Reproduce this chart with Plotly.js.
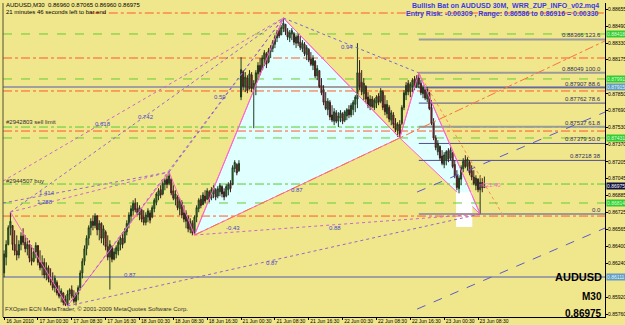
<!DOCTYPE html>
<html><head><meta charset="utf-8">
<script src="https://cdn.plot.ly/plotly-3.0.1.min.js"></script>
<style>html,body{margin:0;padding:0;background:#F0E68C}#c{width:625px;height:325px}</style>
</head><body><div id="c"></div><script>
// prices stored as offset from 0.85 in units of 0.00001
const BASE = 0.85, UNIT = 1e-5;
const openV = [1150,1300,1420,1580,1600,1420,1360,1320,1420,1500,1440,1380,1420,1290,1260,1350,1410,1250,1200,1250,1130,1200,1090,1060,1010,1060,960,930,960,900,850,950,990,930,880,950,1010,1150,1260,1380,1480,1580,1640,1600,1690,1560,1620,1480,1540,1400,1300,1400,1280,1330,1360,1420,1480,1440,1540,1610,1690,1740,1810,1760,1700,1750,1680,1630,1680,1720,1680,1760,1820,1880,1940,1900,1990,2040,2000,2040,1930,1850,1870,1760,1820,1720,1640,1680,1560,1620,1530,1680,1760,1850,1800,1880,1850,1920,1860,1900,1940,1880,1920,1970,1920,1880,1940,2000,1990,2140,2180,2120,2820,3060,2920,3000,2900,3030,2900,2950,3040,3120,3080,3180,3230,3150,3250,3280,3320,3380,3450,3410,3470,3510,3440,3380,3420,3420,3330,3400,3340,3280,3320,3220,3270,3180,3120,3160,3020,3070,2930,2890,2780,2700,2770,2650,2590,2670,2590,2620,2660,2600,2640,2700,2650,2700,2750,2800,3050,2960,2850,2920,2820,2730,2800,2720,2760,2830,2780,2870,2750,2660,2720,2600,2650,2570,2500,2560,2570,2720,2840,2950,2870,2920,2990,2920,3000,2950,2850,2890,2800,2860,2720,2580,2430,2300,2350,2260,2180,2220,2310,2240,2290,2180,2080,1950,2040,2140,2220,2160,2200,2120,2060,1980,2040,1940,2010,1960];
const highV = [1365,1460,1602,1728,1602,1555,1507,1460,1536,1574,1507,1479,1460,1412,1384,1441,1412,1365,1317,1289,1251,1222,1194,1156,1127,1080,1032,1004,966,937,985,1004,1032,985,966,1032,1175,1289,1412,1507,1602,1669,1697,1716,1700,1650,1631,1602,1555,1507,1460,1412,1384,1412,1460,1507,1536,1574,1650,1726,1792,1840,1859,1821,1792,1764,1745,1726,1764,1745,1792,1859,1916,1954,1982,2030,2049,2077,2108,2049,1982,1935,1887,1859,1840,1792,1745,1697,1669,1650,1697,1792,1859,1887,1916,1935,1954,1935,1964,1982,1954,1973,2001,1982,1954,1992,2011,2030,2172,2220,2191,2220,3198,3075,3056,3027,3075,3056,2980,3075,3151,3189,3217,3265,3246,3284,3312,3360,3407,3455,3474,3502,3570,3512,3474,3455,3474,3436,3407,3426,3398,3360,3341,3312,3284,3246,3217,3170,3122,3075,2999,2932,2866,2809,2790,2742,2714,2695,2676,2695,2676,2695,2714,2742,2761,2790,2837,3331,3170,3075,2999,2932,2866,2837,2828,2809,2837,2856,2904,2885,2837,2790,2742,2695,2676,2619,2581,2600,2742,2885,2961,2980,2961,2999,3018,3027,3049,2980,2932,2904,2913,2866,2790,2619,2457,2410,2362,2315,2296,2315,2334,2343,2296,2220,2125,2077,2172,2239,2267,2248,2220,2172,2125,2077,2049,2077,2049,2065];
const lowV = [1109,1222,1412,1507,1365,1317,1270,1289,1365,1412,1346,1317,1251,1222,1251,1289,1222,1175,1127,1099,1080,1061,1032,985,966,937,909,871,842,836,836,890,909,861,842,890,985,1099,1222,1317,1412,1507,1555,1574,1507,1460,1432,1412,1365,1270,992,1251,1270,1289,1317,1365,1384,1430,1507,1574,1631,1697,1726,1697,1650,1631,1602,1602,1631,1621,1669,1726,1792,1840,1859,1887,1935,1954,1982,1887,1840,1792,1745,1697,1669,1631,1574,1536,1526,1507,1510,1631,1726,1764,1792,1812,1840,1821,1840,1859,1840,1859,1878,1868,1840,1868,1887,1916,1982,2106,2077,2110,2790,2885,2866,2856,2890,2866,2524,2837,2980,3027,3075,3113,3094,3140,3189,3246,3284,3341,3379,3407,3436,3407,3360,3341,3360,3312,3284,3303,3265,3246,3208,3170,3151,3113,3075,2999,2980,2904,2837,2742,2695,2647,2600,2581,2552,2571,2534,2581,2562,2581,2600,2619,2628,2647,2676,2714,2885,2837,2790,2761,2714,2695,2714,2695,2714,2742,2761,2695,2647,2619,2581,2552,2524,2486,2441,2431,2552,2695,2790,2837,2818,2866,2885,2904,2904,2837,2809,2790,2771,2695,2552,2410,2315,2267,2220,2172,2144,2172,2201,2220,2144,2049,1935,1906,1982,2106,2144,2125,2077,2030,1982,1935,1916,1709,1916,1960];
const closeV = [1330,1420,1580,1640,1420,1360,1320,1420,1500,1440,1380,1420,1290,1260,1350,1410,1250,1200,1250,1130,1200,1090,1060,1010,1100,960,930,980,870,850,950,990,930,880,950,1010,1150,1260,1380,1480,1580,1640,1600,1690,1560,1620,1480,1570,1400,1300,1420,1280,1350,1390,1440,1480,1420,1550,1620,1700,1760,1810,1750,1720,1770,1660,1630,1700,1740,1650,1770,1840,1900,1930,1890,2000,2030,1990,2070,1910,1860,1900,1770,1830,1700,1660,1720,1570,1640,1530,1680,1770,1840,1790,1890,1830,1930,1850,1940,1960,1870,1950,1980,1900,1870,1970,1990,1950,2150,2200,2100,2190,3080,2920,3010,2880,3040,2900,2950,3050,3120,3060,3190,3240,3130,3260,3290,3340,3390,3430,3400,3480,3520,3440,3390,3430,3450,3340,3390,3330,3290,3330,3230,3290,3170,3130,3190,3020,3090,2920,2860,2770,2710,2780,2630,2600,2680,2590,2640,2670,2590,2680,2700,2650,2740,2770,2820,3050,2920,2870,2950,2800,2740,2800,2730,2790,2820,2770,2880,2720,2680,2750,2610,2670,2560,2510,2560,2470,2720,2860,2930,2870,2940,2980,2910,3000,2940,2860,2910,2810,2890,2710,2570,2430,2340,2380,2240,2190,2270,2300,2230,2320,2160,2070,1960,2050,2150,2210,2160,2230,2100,2060,2000,2050,1940,2010,1960,1975];

const tickIdx = [0,16,32,48,64,80,96,112,128,144,160,176,192,208,224];
const tickText = ['16 Jun 2010','17 Jun 00:30','17 Jun 08:30','17 Jun 16:30','18 Jun 00:30','18 Jun 08:30','18 Jun 16:30','21 Jun 00:30','21 Jun 08:30','21 Jun 16:30','22 Jun 00:30','22 Jun 08:30','22 Jun 16:30','23 Jun 00:30','23 Jun 08:30'];
// y labels (0.88010 and 0.86080 sit under the price boxes)
const yTicks = [0.88655,0.88490,0.88330,0.88175,0.87850,0.87690,0.87530,0.87370,0.87205,0.87045,0.86885,0.86725,0.86565,0.86400,0.86240,0.85920,0.85760];

// ZUP pivots (L0 / L1 are off-chart anchors at the left edge)
const pivotNames = ['L0','L1','P0','P1','P2','X','A','B','C','D','E'];
const pivotIdx   = [-0.5,-0.5,3,30,78,90,132,187,196,225,236];
const pivotPrice = [0.87022,0.86814,0.86728,0.85836,0.87108,0.86510,0.88570,0.87431,0.88049,0.86709,0.86690];
const zigzag = ['P0','P1','P2','X','A','B','C','D'];

// horizontal levels (orders / stops / targets) and the bar index they start from
const hLevels = [0.88617,0.88418,0.88190,0.87991,0.87915,0.87877,0.87535,0.87497,0.87431,0.86994,0.86814,0.86690,0.86111];
const hKinds  = ['red','green','red','green','grey','red','greendd','red','green','greendd','green','red','grey'];
const hStart  = [41,-0.5,-0.5,-0.5,-0.5,-0.5,-0.5,-0.5,-0.5,-0.5,-0.5,-0.5,-0.5];

// fibonacci levels
const fibPrices = [0.88366,0.88049,0.87907,0.87762,0.87537,0.87379,0.87218,0.86709];
const fibLabels = ['0.88366 123.6','0.88049 100.0','0.87907 88.6','0.87762 78.6','0.87537 61.8','0.87379 50.0','0.87218 38','0.0'];
const fibKinds  = ['grey','grey','navy','navy','grey','navy','navy','grey'];

// PRZ box
const przLow = 0.86586, przHigh = 0.86916;
const przIdx = [213.6, 221.3];

// ratio lines between pivots
const ratioLines = [['P0','A'],['P1','A'],['P2','A'],['L0','A'],['A','C'],['X','D'],['P1','D'],['P0','P2'],['L1','P2']];
const ratioColors = ['#9966CC','#9966CC','#9966CC','#CC66CC','#7766CC','#CC66CC','#9966CC','#CC66CC','#9966CC'];

// axis price boxes
const boxPrices = [0.88418,0.87991,0.87915,0.87431,0.86975,0.86814,0.86111];

const xs = closeV.map((_, i) => i);
const toP = v => +(BASE + v * UNIT).toFixed(5);
const P = n => [pivotIdx[pivotNames.indexOf(n)], pivotPrice[pivotNames.indexOf(n)]];

const XMAX = 284, XMIN = -0.5;
const px = p => (p - 3) / 602, py = p => (317 - p) / 314;
const F = 'Liberation Sans, Arial, sans-serif';

const shapes = [];
const tri = (a,b,c) => {const [x1,y1]=P(a),[x2,y2]=P(b),[x3,y3]=P(c);
  return `M ${x1} ${y1} L ${x2} ${y2} L ${x3} ${y3} Z`;};
shapes.push({type:'path', path:tri('X','A','B'), xref:'x', yref:'y', fillcolor:'#E0FFFF', line:{color:'#FF66CC', width:1}, layer:'below'});
shapes.push({type:'path', path:tri('B','C','D'), xref:'x', yref:'y', fillcolor:'#E0FFFF', line:{color:'#FF66CC', width:1}, layer:'below'});
shapes.push({type:'rect', xref:'x', yref:'y', x0:przIdx[0], x1:przIdx[1], y0:przLow, y1:przHigh, fillcolor:'#FFFFFF', line:{width:0}, layer:'below'});

const kindStyle = {
  red:{color:'#FF5A2A', dash:'dashdot', width:1},
  green:{color:'#66CC33', dash:'dash', width:1},
  greendd:{color:'#55CC33', dash:'dashdot', width:1},
  grey:{color:'#A0A0A0', dash:'solid', width:2}
};
hLevels.forEach((v,k)=>shapes.push({type:'line', xref:'x', yref:'y', x0:hStart[k], x1:XMAX, y0:v, y1:v, line:kindStyle[hKinds[k]], layer:'below'}));
fibPrices.forEach((v,k)=>shapes.push({type:'line', xref:'x', yref:'y', x0:pivotIdx[8], x1:XMAX, y0:v, y1:v,
  line: fibKinds[k]==='grey'?{color:'#9A9A9A', width:2}:{color:'#505090', width:1}, layer:'below'}));

ratioLines.forEach(([a,b],k)=>{const [x0,y0]=P(a),[x1,y1]=P(b);
  shapes.push({type:'line', xref:'x', yref:'y', x0, y0, x1, y1, line:{color:ratioColors[k], dash:'dot', width:1}});});
{const [x0,y0]=P('C'),[x1,y1]=P('E');
 shapes.push({type:'line', xref:'x', yref:'y', x0, y0, x1, y1, line:{color:'#FF8C50', dash:'dot', width:1}});}
{const [x0,y0]=P('X'),[x1,y1]=P('B'); const yE = y0 + (y1-y0)*(XMAX-x0)/(x1-x0);
 shapes.push({type:'line', xref:'x', yref:'y', x0, y0, x1:XMAX, y1:yE, line:{color:'#FF7040', dash:'dashdot', width:1}});}
const chanX = [195.2, 284];
const chanLow = [0.85807, 0.86576];
const chanHigh = [0.86918, 0.87677];
[chanLow, chanHigh].forEach(c=>shapes.push({type:'line', xref:'x', yref:'y', x0:chanX[0], x1:chanX[1], y0:c[0], y1:c[1], line:{color:'#5A5ACF', dash:'dash', width:1}}));
shapes.push({type:'line', xref:'paper', yref:'paper', x0:0, x1:0, y0:0, y1:1, line:{color:'#505030', width:1}});

const zx = zigzag.map(n=>P(n)[0]), zy = zigzag.map(n=>P(n)[1]);
const traces = [
  {type:'candlestick', x:xs, open:openV.map(toP), high:highV.map(toP), low:lowV.map(toP), close:closeV.map(toP),
   increasing:{line:{color:'#1E3A1E', width:1}, fillcolor:'#2E9A2E'},
   decreasing:{line:{color:'#3A1E1E', width:1}, fillcolor:'#C8203C'},
   whiskerwidth:0, hoverinfo:'skip'},
  {type:'scatter', mode:'lines', x:zx, y:zy, line:{color:'#FF66CC', width:1}, hoverinfo:'skip'}
];

const ann = [];
const T = (text, x, y, o={}) => ann.push(Object.assign({text, xref:'paper', yref:'paper', x:px(x), y:py(y), showarrow:false,
  xanchor:'left', yanchor:'middle', font:{family:F, size:6, color:'#000'}}, o));
T('AUDUSD,M30  0.86960 0.87065 0.86960 0.86975', 4, 5);
T('21 minutes 46 seconds left to bar end', 4, 12);
T('<b>Bullish Bat on AUDUSD 30M,  WRR_ZUP_INFO_v02.mq4</b>', 601, 6, {xanchor:'right', font:{family:F, size:7, color:'#3A3AE0'}});
T('<b>Entry Risk: -0.00309 , Range: 0.86586 to 0.86916 = 0.00330</b>', 601, 14, {xanchor:'right', font:{family:F, size:7, color:'#3A3AE0'}});
T('#2942803 sell limit', 4, 122, {font:{family:F, size:6, color:'#303030'}});
T('#2944507 buy', 4, 181, {font:{family:F, size:6, color:'#303030'}});
T('FXOpen ECN MetaTrader, © 2001-2009 MetaQuotes Software Corp.', 3, 309, {font:{family:F, size:6, color:'#303030'}});
T('<b>AUDUSD</b>', 604, 277, {xanchor:'right', font:{family:F, size:11, color:'#000'}});
T('<b>M30</b>', 604, 296, {xanchor:'right', font:{family:F, size:10, color:'#000'}});
T('<b>0.86975</b>', 604, 313, {xanchor:'right', font:{family:F, size:10, color:'#000'}});
fibPrices.forEach((v,k)=>ann.push({text:fibLabels[k], xref:'paper', yref:'y', x:px(603), y:v, yshift:4, showarrow:false, xanchor:'right', yanchor:'middle',
  font:{family:F, size:6, color:'#303060'}}));
const ratioText = ['0.59','0.94','0.618','0.742','1.414','1.288','-0.43','0.87','0.87','0.88','0.87'];
const ratioPos = [[220,97],[347,47],[103,124],[146,117],[47,193],[45,202],[233,228],[130,275],[297,190],[335,228],[272,263]];
ratioText.forEach((t,k)=>T(t, ratioPos[k][0], ratioPos[k][1], {xanchor:'center', font:{family:F, size:6, color:'#4848C8'}}));
T('n021.40', 490, 185, {xanchor:'center', font:{family:F, size:6, color:'#FF66CC'}});
const boxColors = ['#33CC33','#33CC33','#6699CC','#33CC33','#101040','#33CC33','#6699CC'];
boxPrices.forEach((v,k)=>ann.push({text:v.toFixed(5), xref:'paper', yref:'y', x:1, xshift:1, y:v, showarrow:false, xanchor:'left', yanchor:'middle',
  bgcolor:boxColors[k], borderpad:0, font:{family:F, size:5, color: k===4?'#FFFFFF':'#D8FFD8'}}));

const layout = {
  width:625, height:325, margin:{l:3, r:20, t:3, b:8},
  paper_bgcolor:'#F0E68C', plot_bgcolor:'#F0E68C', showlegend:false, hovermode:false,
  xaxis:{range:[XMIN, XMAX], tickvals:tickIdx, ticktext:tickText, showgrid:false, zeroline:false, rangeslider:{visible:false},
    ticks:'outside', ticklen:2, tickcolor:'#000', showline:true, linecolor:'#000', linewidth:1,
    tickfont:{family:F, size:5, color:'#000'}, ticklabelshift:16, ticklabelstandoff:-3},
  yaxis:{range:[0.85732, 0.88712], side:'right', tickvals:yTicks, ticktext:yTicks.map(v=>v.toFixed(5)), showgrid:false, zeroline:false,
    ticks:'outside', ticklen:2, tickcolor:'#000', showline:true, linecolor:'#000', linewidth:1,
    tickfont:{family:F, size:5, color:'#000'}, ticklabelstandoff:-1},
  shapes, annotations:ann
};
Plotly.newPlot('c', traces, layout, {staticPlot:true, displayModeBar:false});
</script></body></html>
